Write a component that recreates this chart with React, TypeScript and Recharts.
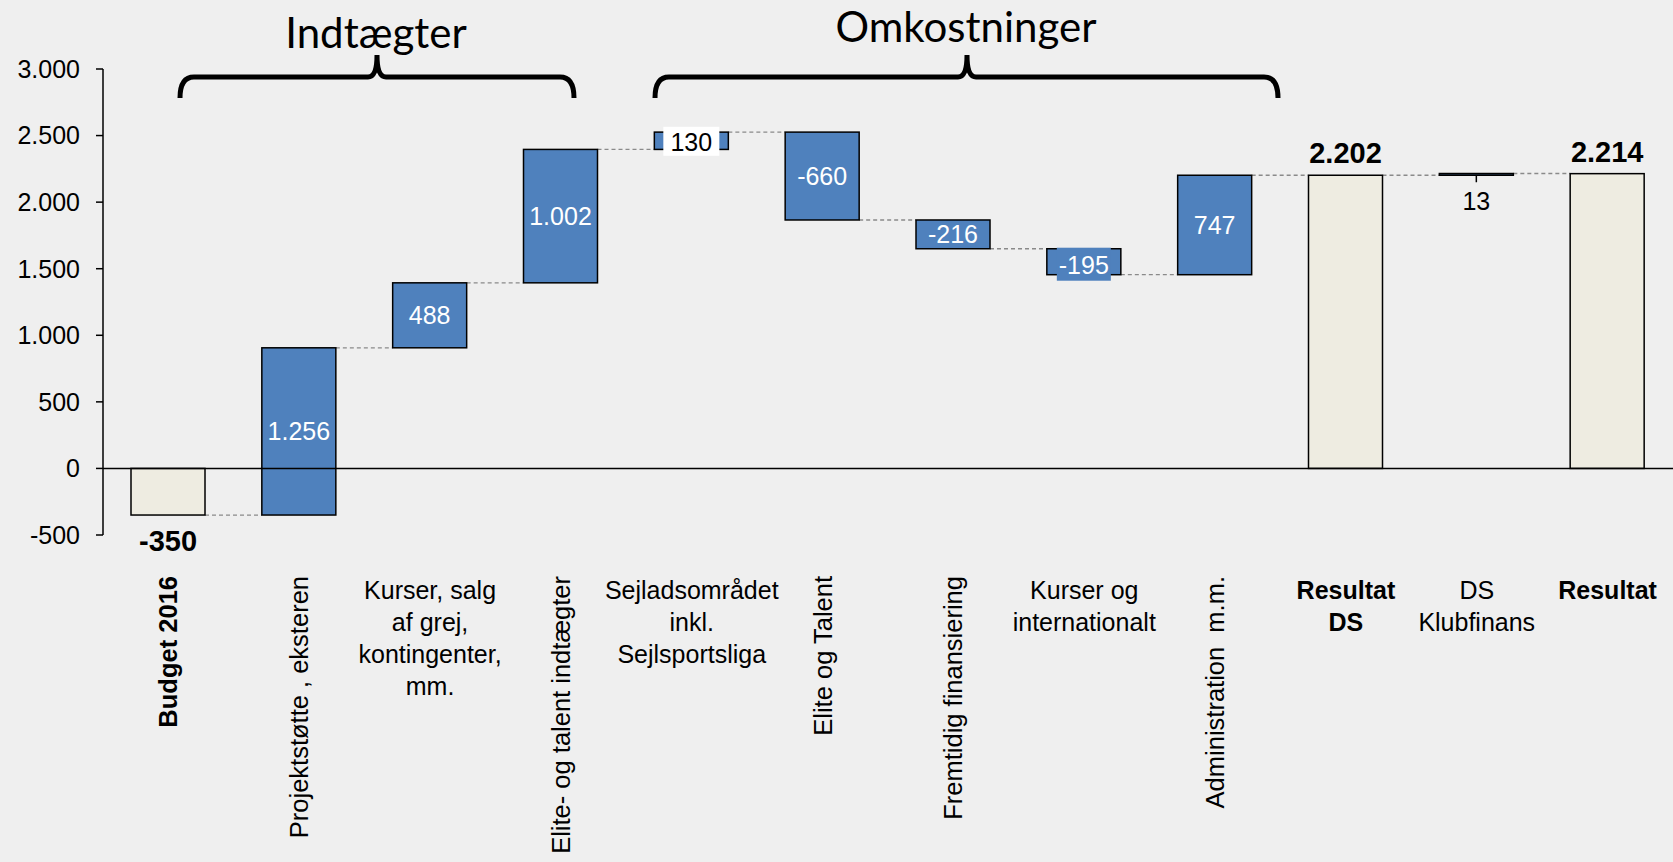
import React from 'react';
import { BarChart, Bar, XAxis, YAxis, ReferenceLine } from 'recharts';

const categories = [
  'Budget 2016', 'Projektstøtte , eksteren', 'Kurser, salg af grej, kontingenter, mm.',
  'Elite- og talent indtægter', 'Sejladsområdet inkl. Sejlsportsliga', 'Elite og Talent',
  'Fremtidig finansiering', 'Kurser og internationalt', 'Administration  m.m.',
  'Resultat DS', 'DS Klubfinans', 'Resultat',
];
const labelLines = [
  ['Budget 2016'], ['Projektstøtte , eksteren'], ['Kurser, salg', 'af grej,', 'kontingenter,', 'mm.'],
  ['Elite- og talent indtægter'], ['Sejladsområdet', 'inkl.', 'Sejlsportsliga'], ['Elite og Talent'],
  ['Fremtidig finansiering'], ['Kurser og', 'internationalt'], ['Administration  m.m.'],
  ['Resultat', 'DS'], ['DS', 'Klubfinans'], ['Resultat'],
];
const rotatedLabel = [true, true, false, true, false, true, true, false, true, false, false, false];
const boldLabel = [true, false, false, false, false, false, false, false, false, true, false, true];
const values = [-350, 1256, 488, 1002, 130, -660, -216, -195, 747, 2202, 13, 2214];
const isTotal = [true, false, false, false, false, false, false, false, false, true, false, true];
const yTicks = [-500, 0, 500, 1000, 1500, 2000, 2500, 3000];

const W = 1673;
const H = 862;
const Y_AXIS_W = 103;
const BAND = (W - Y_AXIS_W) / categories.length;
const BLUE = '#4F81BD';
const BEIGE = '#EEECE1';
const FONT = '"Liberation Sans", Arial, sans-serif';

const fmt = (v: number) =>
  (v < 0 ? '-' : '') + Math.abs(v).toString().replace(/\B(?=(\d{3})+(?!\d))/g, '.');

// running totals for the waterfall
let running = 0;
const data = categories.map((name, i) => {
  const start = isTotal[i] ? 0 : running;
  const end = isTotal[i] ? values[i] : running + values[i];
  running = end;
  return { name, idx: i, value: values[i], end, total: isTotal[i], range: [Math.min(start, end), Math.max(start, end)] };
});

const WaterfallBar = (props: any) => {
  const { x, y, width, height, payload } = props;
  const i = payload.idx;
  const endY = payload.end === payload.range[1] ? y : y + height;
  const cx = x + width / 2;
  const cy = y + height / 2;
  let label: React.ReactNode = null;
  if (payload.total) {
    const above = payload.end >= 0;
    label = (
      <text x={cx} y={above ? y - 22 : y + height + 26} textAnchor="middle" dominantBaseline="central"
        fontSize={29} fontWeight="bold" fontFamily={FONT} fill="#000">{fmt(payload.value)}</text>
    );
  } else if (height < 6) {
    label = (
      <g>
        <line x1={cx} x2={cx} y1={y + height} y2={y + height + 7} stroke="#000" strokeWidth={1.5} />
        <text x={cx} y={y + height + 26} textAnchor="middle" dominantBaseline="central"
          fontSize={25} fontFamily={FONT} fill="#000">{fmt(payload.value)}</text>
      </g>
    );
  } else if (height < 20) {
    label = (
      <g>
        <rect x={cx - 28} y={cy - 14} width={56} height={29} fill="#fff" />
        <text x={cx} y={cy + 1} textAnchor="middle" dominantBaseline="central"
          fontSize={25} fontFamily={FONT} fill="#000">{fmt(payload.value)}</text>
      </g>
    );
  } else {
    label = (
      <g>
        {height < 28 && <rect x={cx - 27} y={cy - 14} width={54} height={33} fill={BLUE} />}
        <text x={cx} y={height < 28 ? cy + 3 : cy} textAnchor="middle" dominantBaseline="central"
          fontSize={25} fontFamily={FONT} fill="#fff">{fmt(payload.value)}</text>
      </g>
    );
  }
  return (
    <g>
      {i < data.length - 1 && (
        <line x1={x + width} x2={x + BAND} y1={endY} y2={endY} stroke="#8a8a8a" strokeWidth={1.3} strokeDasharray="4 3" />
      )}
      <rect x={x} y={y} width={width} height={height} fill={payload.total ? BEIGE : BLUE} stroke="#000" strokeWidth={1.5} />
      {label}
    </g>
  );
};

const CategoryTick = (props: any) => {
  const { x, y, payload } = props;
  const i = props.index ?? payload.index;
  const lines = labelLines[i];
  const weight = boldLabel[i] ? 'bold' : 'normal';
  if (rotatedLabel[i]) {
    return (
      <text transform={`translate(${x},${y + 41}) rotate(-90)`} textAnchor="end" dy="0.35em"
        fontSize={25.5} fontWeight={weight} fontFamily={FONT} fill="#000" style={{ whiteSpace: 'pre' }}>
        {lines[0]}
      </text>
    );
  }
  return (
    <text x={x} y={y + 64} textAnchor="middle" fontSize={25} fontWeight={weight} fontFamily={FONT} fill="#000">
      {lines.map((l, k) => (
        <tspan key={k} x={x} dy={k ? 32 : 0}>{l}</tspan>
      ))}
    </text>
  );
};

const bracePath = (left: number, right: number, mid: number) =>
  `M${left},98 Q${left},77 ${left + 14},77 L${mid - 9},77 Q${mid},77 ${mid},55 Q${mid},77 ${mid + 9},77 L${right - 14},77 Q${right},77 ${right},98`;

export default function App() {
  return (
    <div style={{ position: 'absolute', left: 0, top: 0, width: W, height: H, background: '#EFEFEF' }}>
      <BarChart width={W} height={H} data={data} margin={{ top: 69, right: 0, bottom: 27, left: 0 }} barSize={74}>
        <YAxis
          domain={[-500, 3000]}
          ticks={yTicks}
          width={Y_AXIS_W}
          tickFormatter={fmt}
          tick={{ fill: '#000', fontSize: 25, fontFamily: FONT }}
          axisLine={{ stroke: '#000', strokeWidth: 1.5 }}
          tickLine={{ stroke: '#000', strokeWidth: 1.5 }}
          tickSize={7}
          tickMargin={16}
        />
        <XAxis
          dataKey="name"
          height={300}
          interval={0}
          axisLine={false}
          tickLine={false}
          tickSize={0}
          tickMargin={0}
          tick={<CategoryTick />}
        />
        <ReferenceLine y={0} stroke="#000" strokeWidth={1.5} />
        <Bar dataKey="range" shape={<WaterfallBar />} isAnimationActive={false} />
      </BarChart>
      <svg width={W} height={H} style={{ position: 'absolute', left: 0, top: 0, pointerEvents: 'none' }}>
        <text x={376} y={48} textAnchor="middle" fontSize={42} fontFamily="Lato, sans-serif" fill="#000">Indtægter</text>
        <text x={966} y={42} textAnchor="middle" fontSize={42} fontFamily="Lato, sans-serif" fill="#000">Omkostninger</text>
        <path d={bracePath(180, 574, 377)} fill="none" stroke="#000" strokeWidth={5} />
        <path d={bracePath(655, 1278, 967)} fill="none" stroke="#000" strokeWidth={5} />
      </svg>
    </div>
  );
}
